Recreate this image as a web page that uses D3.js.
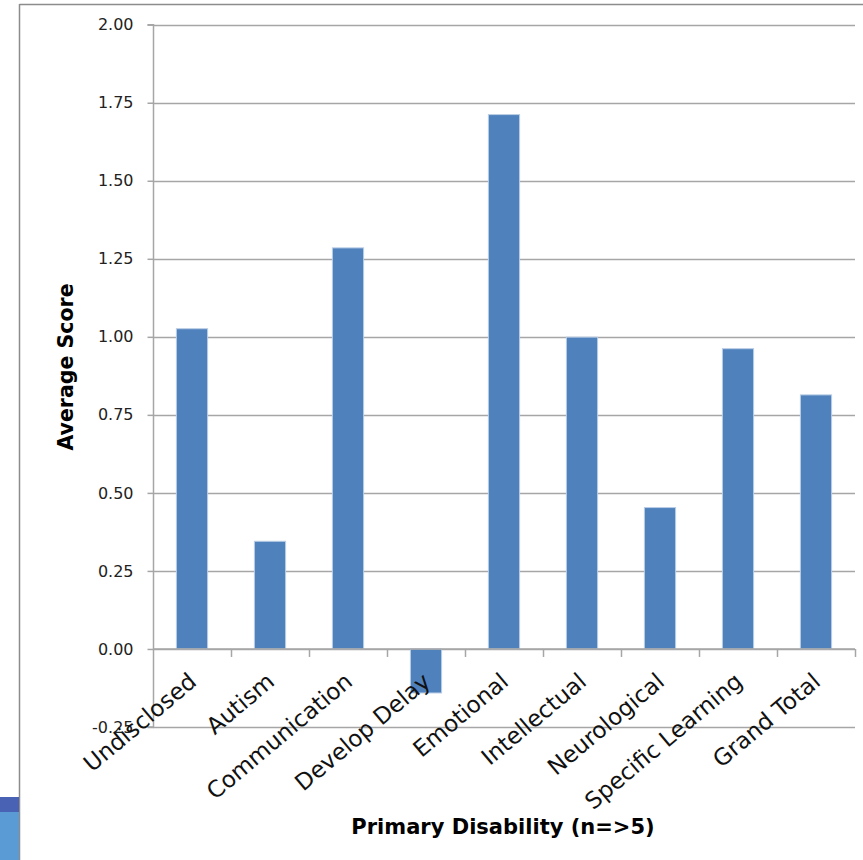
<!DOCTYPE html>
<html><head><meta charset="utf-8">
<script src="https://cdn.jsdelivr.net/npm/d3@7"></script>
<style>body{margin:0;background:#fff}svg{display:block}</style>
</head><body>
<script>
const categories = ["Undisclosed","Autism","Communication","Develop Delay","Emotional","Intellectual","Neurological","Specific Learning","Grand Total"];
const values = [1.026, 0.345, 1.285, -0.141, 1.712, 0.999, 0.453, 0.962, 0.814];
const yTicks = [-0.25, 0, 0.25, 0.5, 0.75, 1.0, 1.25, 1.5, 1.75, 2.0];
const yTitle = "Average Score";
const xTitle = "Primary Disability (n=>5)";

const W = 863, H = 860;
const svg = d3.select("body").append("svg").attr("width", W).attr("height", H);
const font = "'DejaVu Sans', sans-serif";

// outer frame fragments
svg.append("line").attr("x1",19.5).attr("x2",W).attr("y1",4.5).attr("y2",4.5).attr("stroke","#8c8c8c").attr("stroke-width",1.5);
svg.append("line").attr("x1",19.5).attr("x2",19.5).attr("y1",4).attr("y2",H).attr("stroke","#8c8c8c").attr("stroke-width",1.5);
svg.append("rect").attr("x",0).attr("y",797).attr("width",19).attr("height",15).attr("fill","#4a62b3");
svg.append("rect").attr("x",0).attr("y",812).attr("width",19).attr("height",48).attr("fill","#5b9bd5");

const x0 = 153, x1 = 855;
const y = d3.scaleLinear().domain([-0.25, 2.0]).range([727, 24.7]);
const x = d3.scaleBand().domain(categories).range([x0, x1]).paddingInner(0.6).paddingOuter(0.3);

// gridlines
svg.append("g").selectAll("line").data(yTicks).join("line")
  .attr("x1", x0).attr("x2", x1)
  .attr("y1", d => Math.round(y(d)) + 0.5).attr("y2", d => Math.round(y(d)) + 0.5)
  .attr("stroke", "#a6a6a6").attr("stroke-width", 1.5);

// y axis
const fmt = d => d3.format(".2f")(d).replace("\u2212", "-");
const yAxis = d3.axisLeft(y).tickValues(yTicks).tickFormat(fmt).tickSize(6).tickPadding(14);
const gy = svg.append("g").attr("transform", `translate(${x0 + 0.5},0)`).call(yAxis);
gy.select(".domain").attr("stroke", "#a6a6a6").attr("stroke-width", 1.5).attr("d", `M-6,${y(2)}H0V${y(-0.25)}H-6`);
gy.selectAll(".tick line").attr("stroke", "#a6a6a6").attr("stroke-width", 1.5);
gy.selectAll(".tick text").attr("font-family", font).attr("font-size", 16).attr("fill", "#222");

// bars
svg.append("g").selectAll("rect").data(values).join("rect")
  .attr("x", (d, i) => x(categories[i]))
  .attr("width", x.bandwidth())
  .attr("y", d => y(Math.max(0, d)))
  .attr("height", d => Math.abs(y(d) - y(0)))
  .attr("fill", "#4f81bd").attr("stroke", "#b9cde5").attr("stroke-width", 1);

// x axis at zero
const bx = d3.scaleLinear().domain([0, categories.length]).range([x0, x1]);
const gx = svg.append("g");
gx.append("line").attr("x1", x0).attr("x2", x1).attr("y1", y(0)).attr("y2", y(0)).attr("stroke", "#a6a6a6").attr("stroke-width", 1.5);
gx.selectAll("line.t").data(d3.range(1, categories.length + 1)).join("line").attr("class","t")
  .attr("x1", d => Math.round(bx(d)) + 0.5).attr("x2", d => Math.round(bx(d)) + 0.5)
  .attr("y1", y(0)).attr("y2", y(0) + 8).attr("stroke", "#a6a6a6").attr("stroke-width", 1.5);

// category labels
svg.append("g").selectAll("text").data(categories).join("text")
  .attr("transform", d => `translate(${x(d) + x.bandwidth() / 2 + 6},${y(0) + 35}) rotate(-40)`)
  .attr("text-anchor", "end")
  .attr("font-family", font).attr("font-size", 23).attr("fill", "#111")
  .text(d => d);

// titles
svg.append("text").attr("transform", `translate(73,367) rotate(-90)`)
  .attr("text-anchor", "middle").attr("font-family", font).attr("font-weight", "bold")
  .attr("font-size", 20.5).attr("fill", "#000").text(yTitle);
svg.append("text").attr("x", 503).attr("y", 834)
  .attr("text-anchor", "middle").attr("font-family", font).attr("font-weight", "bold")
  .attr("font-size", 21).attr("fill", "#000").text(xTitle);
</script>
</body></html>
